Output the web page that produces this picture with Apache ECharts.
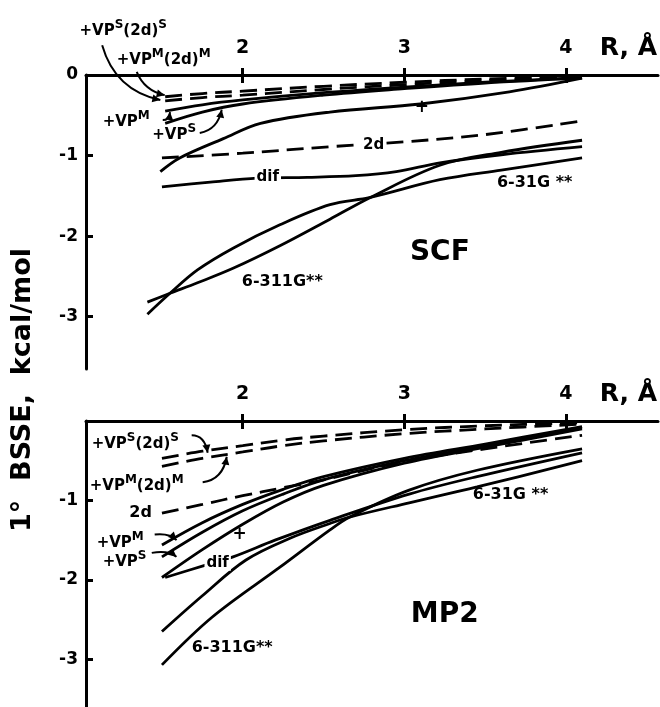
<!DOCTYPE html>
<html>
<head>
<meta charset="utf-8">
<script src="https://cdn.jsdelivr.net/npm/echarts@6/dist/echarts.min.js"></script>
<style>html,body{margin:0;background:#fff}#chart{width:660px;height:707px}</style>
</head>
<body>
<div id="chart"></div>
<script>
var chart = echarts.init(document.getElementById('chart'));

var FONT = 'DejaVu Sans';
var X_MIN = 1.03, X_MAX = 4.57;
var xTicks = [2, 3, 4];
var yTicksSCF = [0, -1, -2, -3];
var yTicksMP2 = [-1, -2, -3];

// SCF panel
var scfLensR = [1.41, 1.55, 1.72, 1.94, 2.23, 2.54, 2.79, 3.22, 3.6, 4.1];
var scf631 = [-2.97, -2.71, -2.42, -2.15, -1.86, -1.61, -1.52, -1.30, -1.18, -1.03];
var scf6311 = [-2.82, -2.71, -2.58, -2.40, -2.12, -1.79, -1.52, -1.12, -0.96, -0.81];
var scfDifR = [1.5, 1.8, 2.09, 2.4, 2.7, 2.95, 3.22, 3.6, 4.1];
var scfDif = [-1.39, -1.33, -1.28, -1.27, -1.25, -1.20, -1.09, -0.99, -0.89];
var scf2dR = [1.5, 2.0, 2.54, 3.0, 3.5, 4.1];
var scf2d = [-1.03, -0.97, -0.89, -0.83, -0.74, -0.57];
var scfPlusR = [1.49, 1.61, 1.88, 2.11, 2.54, 3.1, 3.65, 4.1];
var scfPlus = [-1.20, -1.03, -0.79, -0.60, -0.46, -0.36, -0.21, -0.04];
var scfTopR = [1.52, 1.75, 2.0, 2.5, 3.0, 3.5, 4.1];
var scfVPS2dS = [-0.27, -0.23, -0.20, -0.14, -0.09, -0.05, -0.02];
var scfVPM2dM = [-0.32, -0.28, -0.25, -0.18, -0.12, -0.07, -0.03];
var scfVPM = [-0.45, -0.37, -0.31, -0.22, -0.15, -0.09, -0.03];
var scfVPS = [-0.60, -0.46, -0.36, -0.25, -0.17, -0.10, -0.04];

// MP2 panel
var mp2R = [1.5, 1.75, 2.0, 2.25, 2.5, 3.0, 3.5, 4.1];
var mp2VPS2dS = [-0.47, -0.38, -0.31, -0.24, -0.19, -0.11, -0.06, -0.02];
var mp2VPM2dM = [-0.57, -0.47, -0.39, -0.31, -0.25, -0.16, -0.10, -0.04];
var mp22d = [-1.16, -1.05, -0.94, -0.84, -0.74, -0.51, -0.35, -0.18];
var mp2VPM = [-1.56, -1.28, -1.05, -0.86, -0.70, -0.47, -0.29, -0.07];
var mp2VPS = [-1.71, -1.40, -1.13, -0.92, -0.74, -0.50, -0.31, -0.08];
var mp2Plus = [-1.97, -1.62, -1.30, -1.02, -0.81, -0.53, -0.33, -0.10];
var mp2DifR = [1.52, 1.76, 1.94, 2.2, 2.54, 3.03, 3.45, 4.1];
var mp2Dif = [-1.97, -1.82, -1.71, -1.50, -1.25, -0.92, -0.70, -0.40];
var mp2631R = [1.5, 1.75, 2.02, 2.3, 2.54, 2.66, 3.03, 3.45, 4.1];
var mp2631 = [-2.65, -2.20, -1.75, -1.47, -1.29, -1.21, -1.03, -0.83, -0.50];
var mp26311R = [1.5, 1.81, 2.23, 2.54, 2.66, 3.03, 3.45, 4.1];
var mp26311 = [-3.07, -2.47, -1.84, -1.37, -1.21, -0.87, -0.62, -0.35];

// text labels, placed in data units [R, E]
var sup = function (a, b) { return '{n|+VP}{s|' + a + '}' + (b ? '{n|(2d)}{s|' + b + '}' : ''); };
var notes = [
    // grid, text, [R, E], align, size, white background
    [0, sup('S', 'S'), [0.99, 0.57], 'left'],
    [0, sup('M', 'M'), [1.22, 0.21], 'left'],
    [0, sup('M'), [1.133, -0.56], 'left'],
    [0, sup('S'), [1.44, -0.72], 'left'],
    [0, '+', [3.108, -0.41], 'center', 17],
    [0, '2d', [2.81, -0.87], 'center', 15, true],
    [0, 'dif', [2.155, -1.27], 'center', 15, true],
    [0, '6-31G **', [3.573, -1.34], 'left', 16],
    [0, '6-311G**', [1.994, -2.57], 'left', 16],
    [0, 'SCF', [3.22, -2.21], 'center', 28],
    [1, sup('S', 'S'), [1.065, -0.26], 'left'],
    [1, sup('M', 'M'), [1.053, -0.79], 'left'],
    [1, '2d', [1.368, -1.16], 'center', 16],
    [1, sup('M'), [1.096, -1.51], 'left'],
    [1, sup('S'), [1.133, -1.75], 'left'],
    [1, '+', [1.98, -1.43], 'center', 17],
    [1, 'dif', [1.845, -1.79], 'center', 15, true],
    [1, '6-311G**', [1.684, -2.86], 'left', 16],
    [1, '6-31G **', [3.424, -0.93], 'left', 16],
    [1, 'MP2', [3.25, -2.44], 'center', 28]
];
// curved pointer arrows: start, control, end
var arrows = [
    [0, [1.13, 0.37], [1.21, -0.19], [1.49, -0.31]],
    [0, [1.344, 0.04], [1.39, -0.19], [1.517, -0.25]],
    [0, [1.505, -0.56], [1.545, -0.56], [1.55, -0.46]],
    [0, [1.734, -0.72], [1.845, -0.68], [1.87, -0.43]],
    [1, [1.684, -0.18], [1.765, -0.18], [1.783, -0.40]],
    [1, [1.752, -0.77], [1.876, -0.74], [1.901, -0.45]],
    [1, [1.455, -1.43], [1.548, -1.41], [1.59, -1.50]],
    [1, [1.437, -1.66], [1.536, -1.62], [1.59, -1.71]]
];

function pairs(xs, ys) {
    return xs.map(function (x, i) { return [x, ys[i]]; });
}
function curve(g, xs, ys, dashed) {
    return {
        type: 'line', xAxisIndex: g * 2, yAxisIndex: g,
        data: pairs(xs, ys), smooth: 0.35,
        symbol: 'none', silent: true,
        lineStyle: {color: '#000', width: 2.8, type: dashed ? [17, 8] : 'solid'}
    };
}
function xAxes(g) {
    var common = {gridIndex: g, type: 'value', position: 'top', min: X_MIN, max: X_MAX, splitLine: {show: false}};
    return [
        Object.assign({}, common, {
            axisLine: {show: true, onZero: false, lineStyle: {color: '#000', width: 3}},
            axisTick: {show: true, inside: true, length: 8, customValues: xTicks, lineStyle: {color: '#000', width: 3}},
            axisLabel: {customValues: xTicks, margin: 17, color: '#000', fontSize: 19, fontWeight: 'bold', fontFamily: FONT}
        }),
        Object.assign({}, common, {
            axisLine: {show: false},
            axisTick: {show: true, inside: false, length: 7, customValues: xTicks, lineStyle: {color: '#000', width: 3}},
            axisLabel: {show: false}
        })
    ];
}
function yAxis(g, min, ticks) {
    return {
        gridIndex: g, type: 'value', min: min, max: 0, splitLine: {show: false},
        axisLine: {show: true, onZero: false, lineStyle: {color: '#000', width: 3}},
        axisTick: {show: true, inside: true, length: 7, customValues: ticks, lineStyle: {color: '#000', width: 3}},
        axisLabel: {customValues: ticks, margin: 8, color: '#000', fontSize: 17, fontWeight: 'bold', fontFamily: FONT}
    };
}

var option = {
    animation: false,
    backgroundColor: '#fff',
    grid: [
        {left: 86, top: 75, width: 572, height: 294},
        {left: 86, top: 421, width: 572, height: 286}
    ],
    xAxis: xAxes(0).concat(xAxes(1)),
    yAxis: [yAxis(0, -3.65, yTicksSCF), yAxis(1, -3.6, yTicksMP2)],
    series: [
        curve(0, scfLensR, scf631),
        curve(0, scfLensR, scf6311),
        curve(0, scfDifR, scfDif),
        curve(0, scf2dR, scf2d, true),
        curve(0, scfPlusR, scfPlus),
        curve(0, scfTopR, scfVPS2dS, true),
        curve(0, scfTopR, scfVPM2dM, true),
        curve(0, scfTopR, scfVPM),
        curve(0, scfTopR, scfVPS),
        curve(1, mp2R, mp2VPS2dS, true),
        curve(1, mp2R, mp2VPM2dM, true),
        curve(1, mp2R, mp22d, true),
        curve(1, mp2R, mp2VPM),
        curve(1, mp2R, mp2VPS),
        curve(1, mp2R, mp2Plus),
        curve(1, mp2DifR, mp2Dif),
        curve(1, mp2631R, mp2631),
        curve(1, mp26311R, mp26311)
    ]
};
chart.setOption(option);

function px(g, p) {
    return chart.convertToPixel({xAxisIndex: g * 2, yAxisIndex: g}, p);
}
var graphics = [];
notes.forEach(function (n) {
    var p = px(n[0], n[2]);
    graphics.push({
        type: 'text', x: p[0], y: p[1], z: 100,
        style: {
            text: n[1], fill: '#000', align: n[3], verticalAlign: 'middle',
            fontFamily: FONT, fontWeight: 'bold', fontSize: n[4] || 15,
            backgroundColor: n[5] ? '#fff' : null, padding: n[5] ? [0, 2] : 0,
            rich: {
                n: {fontFamily: FONT, fontWeight: 'bold', fontSize: 15, lineHeight: 20, verticalAlign: 'bottom'},
                s: {fontFamily: FONT, fontWeight: 'bold', fontSize: 12, lineHeight: 10, verticalAlign: 'top'}
            }
        }
    });
});
arrows.forEach(function (a) {
    var s = px(a[0], a[1]), c = px(a[0], a[2]), e = px(a[0], a[3]);
    graphics.push({
        type: 'bezierCurve', z: 100,
        shape: {x1: s[0], y1: s[1], cpx1: c[0], cpy1: c[1], x2: e[0], y2: e[1]},
        style: {stroke: '#000', lineWidth: 2, fill: null}
    });
    var dx = e[0] - c[0], dy = e[1] - c[1], len = Math.sqrt(dx * dx + dy * dy);
    dx /= len; dy /= len;
    graphics.push({
        type: 'polygon', z: 100,
        shape: {points: [[e[0], e[1]],
            [e[0] - dx * 8 - dy * 4, e[1] - dy * 8 + dx * 4],
            [e[0] - dx * 8 + dy * 4, e[1] - dy * 8 - dx * 4]]},
        style: {fill: '#000'}
    });
});
[0, 1].forEach(function (g) {
    var p = px(g, [X_MAX, 0]);
    graphics.push({
        type: 'text', x: p[0] - 1, y: p[1] - 14, z: 100,
        style: {text: 'R, Å', fill: '#000', align: 'right', verticalAlign: 'bottom',
            fontFamily: FONT, fontWeight: 'bold', fontSize: 25}
    });
});
graphics.push({
    type: 'text', x: 23, y: 390, rotation: Math.PI / 2, z: 100,
    style: {text: '1°  BSSE,  kcal/mol', fill: '#000', align: 'center', verticalAlign: 'middle',
        fontFamily: FONT, fontWeight: 'bold', fontSize: 27}
});
chart.setOption({graphic: graphics});

window.addEventListener('resize', function () {
    chart.resize();
});
</script>
</body>
</html>
